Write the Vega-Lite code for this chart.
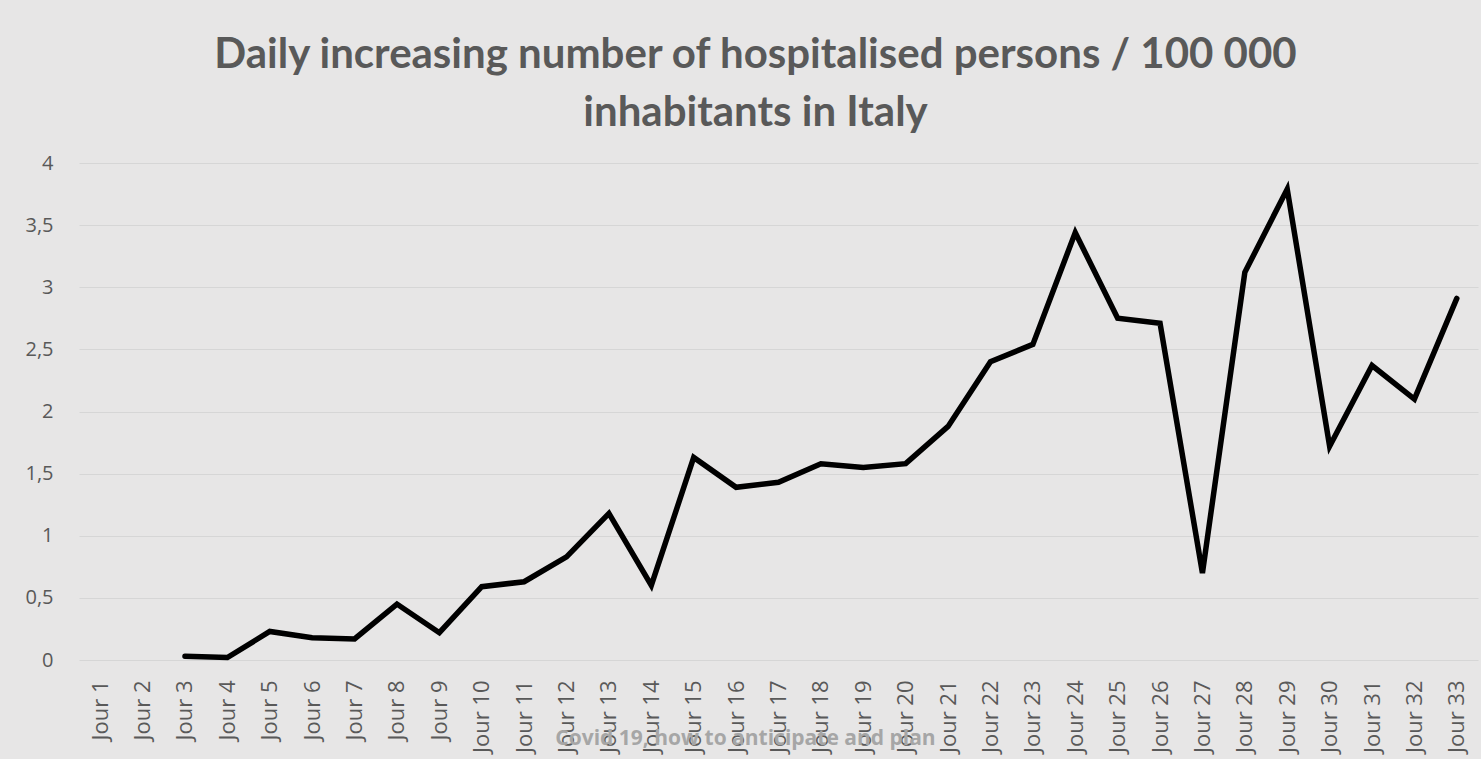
{
  "$schema": "https://vega.github.io/schema/vega-lite/v6.json",
  "autosize": {"type": "none"},
  "padding": {"left": 79, "top": 163, "right": 3, "bottom": 99},
  "width": 1399,
  "height": 497,
  "background": "#e7e6e6",
  "title": {
    "text": ["Daily increasing number of hospitalised persons / 100 000", "inhabitants in Italy"],
    "font": "Lato",
    "fontWeight": "bold",
    "fontSize": 42,
    "color": "#595959",
    "anchor": "middle",
    "frame": "group",
    "dx": -23,
    "lineHeight": 58,
    "offset": 18
  },
  "data": {
    "values": [
      {"day": "Jour 1", "value": null},
      {"day": "Jour 2", "value": null},
      {"day": "Jour 3", "value": 0.03},
      {"day": "Jour 4", "value": 0.02},
      {"day": "Jour 5", "value": 0.23},
      {"day": "Jour 6", "value": 0.18},
      {"day": "Jour 7", "value": 0.17},
      {"day": "Jour 8", "value": 0.45},
      {"day": "Jour 9", "value": 0.22},
      {"day": "Jour 10", "value": 0.59},
      {"day": "Jour 11", "value": 0.63},
      {"day": "Jour 12", "value": 0.83},
      {"day": "Jour 13", "value": 1.18},
      {"day": "Jour 14", "value": 0.6},
      {"day": "Jour 15", "value": 1.63},
      {"day": "Jour 16", "value": 1.39},
      {"day": "Jour 17", "value": 1.43},
      {"day": "Jour 18", "value": 1.58},
      {"day": "Jour 19", "value": 1.55},
      {"day": "Jour 20", "value": 1.58},
      {"day": "Jour 21", "value": 1.88},
      {"day": "Jour 22", "value": 2.4},
      {"day": "Jour 23", "value": 2.54},
      {"day": "Jour 24", "value": 3.44},
      {"day": "Jour 25", "value": 2.75},
      {"day": "Jour 26", "value": 2.71},
      {"day": "Jour 27", "value": 0.7},
      {"day": "Jour 28", "value": 3.12},
      {"day": "Jour 29", "value": 3.79},
      {"day": "Jour 30", "value": 1.72},
      {"day": "Jour 31", "value": 2.37},
      {"day": "Jour 32", "value": 2.1},
      {"day": "Jour 33", "value": 2.91}
    ]
  },
  "mark": {"type": "line", "color": "#000000", "strokeWidth": 5.5, "strokeJoin": "miter", "strokeCap": "round"},
  "encoding": {
    "x": {
      "field": "day",
      "type": "ordinal",
      "sort": null,
      "scale": {
        "domain": ["Jour 1","Jour 2","Jour 3","Jour 4","Jour 5","Jour 6","Jour 7","Jour 8","Jour 9","Jour 10","Jour 11","Jour 12","Jour 13","Jour 14","Jour 15","Jour 16","Jour 17","Jour 18","Jour 19","Jour 20","Jour 21","Jour 22","Jour 23","Jour 24","Jour 25","Jour 26","Jour 27","Jour 28","Jour 29","Jour 30","Jour 31","Jour 32","Jour 33"],
        "type": "point",
        "padding": 0.5
      },
      "axis": {
        "title": "Covid 19, how to anticipate and plan",
        "titleFont": "Open Sans",
        "titleFontWeight": "bold",
        "titleFontSize": 21,
        "titleColor": "#a6a6a6",
        "titleX": 666,
        "titleY": 78,
        "titleBaseline": "middle",
        "titleAnchor": "middle",
        "labelAngle": -90,
        "labelFont": "Open Sans",
        "labelFontSize": 22,
        "labelColor": "#595959",
        "labelPadding": 20,
        "ticks": false,
        "domain": false,
        "grid": false
      }
    },
    "y": {
      "field": "value",
      "type": "quantitative",
      "scale": {"domain": [0, 4], "nice": false},
      "axis": {
        "title": null,
        "values": [0, 0.5, 1, 1.5, 2, 2.5, 3, 3.5, 4],
        "labelExpr": "replace(format(datum.value, '~g'), '.', ',')",
        "labelFont": "Open Sans",
        "labelFontSize": 20,
        "labelColor": "#595959",
        "labelPadding": 26,
        "ticks": false,
        "domain": false,
        "grid": true,
        "gridColor": "#d6d6d6",
        "gridWidth": 1.2
      }
    }
  },
  "config": {
    "view": {"stroke": null}
  }
}
